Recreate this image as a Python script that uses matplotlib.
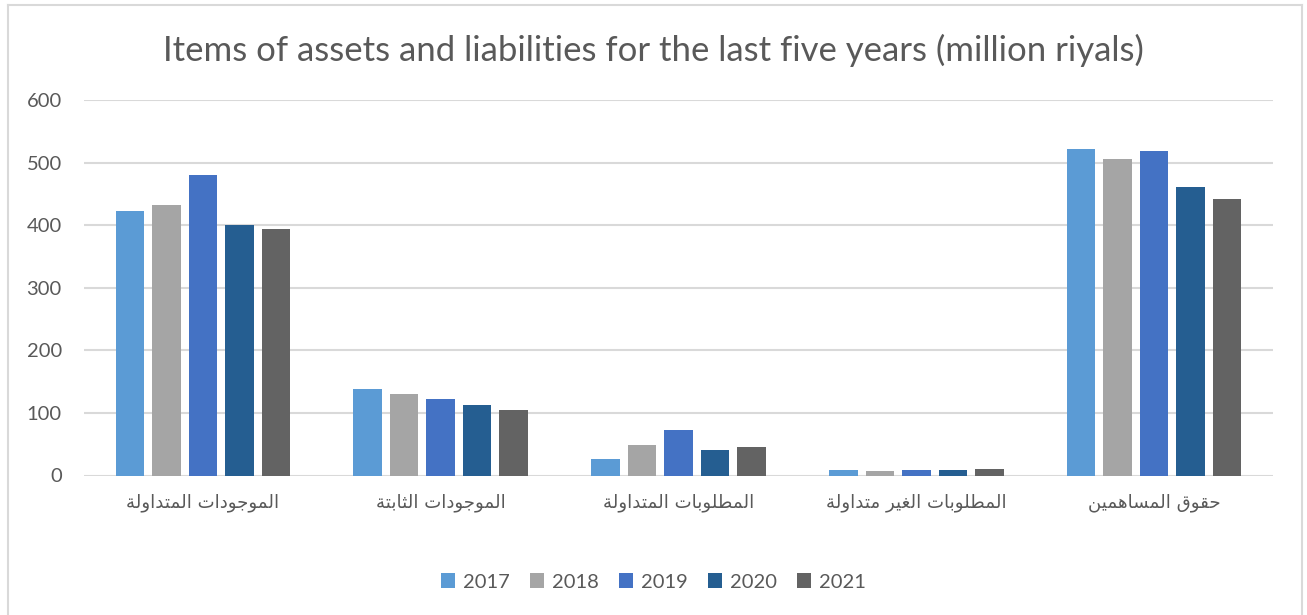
import matplotlib
matplotlib.use("Agg")
import matplotlib.pyplot as plt
from matplotlib.lines import Line2D
import numpy as np

# ── data (million riyals) ──
categories = ["الموجودات المتداولة", "الموجودات الثابتة", "المطلوبات المتداولة",
              "المطلوبات الغير متداولة", "حقوق المساهمين"]
years = ["2017", "2018", "2019", "2020", "2021"]
v2017 = [422, 138, 27, 8, 522]
v2018 = [432, 130, 48, 6.5, 506]
v2019 = [480, 122, 73, 9, 518]
v2020 = [401, 112, 40, 9.5, 461]
v2021 = [394, 105, 45, 10, 442]
series = [v2017, v2018, v2019, v2020, v2021]
colors = ["#5B9BD5", "#A5A5A5", "#4472C4", "#255E91", "#636363"]

# ── tiny Arabic shaper (matplotlib does no contextual shaping / RTL) ──
# base presentation form, dual-joining?
AR_FORMS = {
    "\u0627": (0xFE8D, False), "\u0628": (0xFE8F, True), "\u0629": (0xFE93, False),
    "\u062A": (0xFE95, True), "\u062B": (0xFE99, True), "\u062C": (0xFE9D, True),
    "\u062D": (0xFEA1, True), "\u062F": (0xFEA9, False), "\u0631": (0xFEAD, False),
    "\u0633": (0xFEB1, True), "\u0637": (0xFEC1, True), "\u063A": (0xFECD, True),
    "\u0642": (0xFED5, True), "\u0644": (0xFEDD, True), "\u0645": (0xFEE1, True),
    "\u0646": (0xFEE5, True), "\u0647": (0xFEE9, True), "\u0648": (0xFEED, False),
    "\u064A": (0xFEF1, True),
}


def shape_arabic(text):
    out = []
    n = len(text)
    for i, ch in enumerate(text):
        if ch not in AR_FORMS:
            out.append(ch)
            continue
        base, dual = AR_FORMS[ch]
        prev = text[i - 1] if i > 0 else ""
        nxt = text[i + 1] if i < n - 1 else ""
        join_prev = prev in AR_FORMS and AR_FORMS[prev][1]
        join_next = dual and nxt in AR_FORMS
        if join_prev and join_next:
            out.append(chr(base + 3))
        elif join_prev:
            out.append(chr(base + 1))
        elif join_next:
            out.append(chr(base + 2))
        else:
            out.append(chr(base))
    return "".join(out)[::-1]


W, H = 1307, 615
TXT = "#595959"
GRID = "#D9D9D9"

plt.rcParams["font.family"] = ["Lato", "DejaVu Sans"]

fig = plt.figure(figsize=(W / 100, H / 100), dpi=100)
ax = fig.add_axes([84 / W, 1 - 475.5 / H, (1273 - 84) / W, (475.5 - 100) / H])

x = np.arange(len(categories))
pitch = 0.1536
bw = 0.12
for i, (yr, vals, c) in enumerate(zip(years, series, colors)):
    ax.bar(x + (i - 2) * pitch, vals, width=bw, color=c, label=yr, zorder=3)

ax.set_xlim(-0.5, len(categories) - 0.5)
ax.set_ylim(0, 600)
ax.set_yticks(np.arange(0, 601, 100))
ax.yaxis.grid(True, color=GRID, linewidth=1.5, zorder=0)
for s in ax.spines.values():
    s.set_visible(False)
ax.tick_params(axis="both", length=0, colors=TXT)
ax.tick_params(axis="y", labelsize=14.5, pad=16)
ax.set_xticks(x)
ax.set_xticklabels([shape_arabic(c) for c in categories], fontsize=13.1,
                   family=["DejaVu Sans"], color=TXT)
ax.tick_params(axis="x", pad=13)

fig.text(0.5, 1 - 50 / H, "Items of assets and liabilities for the last five years (million riyals)",
         ha="center", va="center", fontsize=25, color=TXT, fontweight="normal")

ax.legend(loc="center", bbox_to_anchor=(0.5, 1 - 582 / H), bbox_transform=fig.transFigure,
          ncol=5, frameon=False, fontsize=14.5, labelcolor=TXT,
          handlelength=0.7, handleheight=0.7, handletextpad=0.4, columnspacing=1.0)

# chart-area border
for xs, ys in [([8 / W, 8 / W], [0, 1 - 5 / H]),
               ([8 / W, 1302 / W], [1 - 5 / H, 1 - 5 / H]),
               ([1302 / W, 1302 / W], [0, 1 - 5 / H])]:
    fig.add_artist(Line2D(xs, ys, color=GRID, linewidth=1.5, transform=fig.transFigure))

fig.savefig("out.png", dpi=100)
